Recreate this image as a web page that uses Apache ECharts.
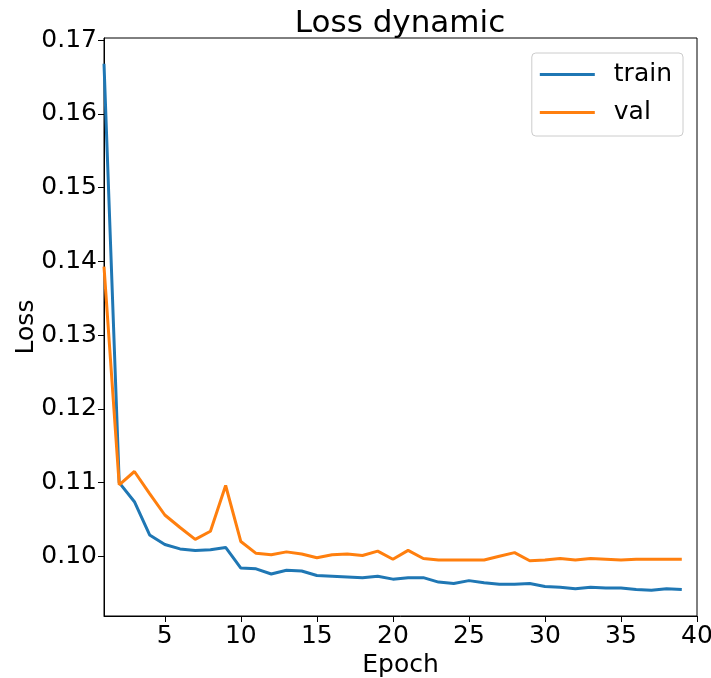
<!DOCTYPE html>
<html>
<head>
<meta charset="utf-8">
<script src="https://cdn.jsdelivr.net/npm/echarts@6/dist/echarts.min.js"></script>
<style>html,body{margin:0;padding:0;background:#fff}#c{width:711px;height:678px}</style>
</head>
<body>
<div id="c"></div>
<script>
var epochs = [1,2,3,4,5,6,7,8,9,10,11,12,13,14,15,16,17,18,19,20,21,22,23,24,25,26,27,28,29,30,31,32,33,34,35,36,37,38,39];
var train = [0.1668,0.1100,0.1074,0.1029,0.1016,0.1010,0.1008,0.1009,0.1012,0.0984,0.0983,0.0976,0.0981,0.0980,0.0974,0.0973,0.0972,0.0971,0.0973,0.0969,0.0971,0.0971,0.0965,0.0963,0.0967,0.0964,0.0962,0.0962,0.0963,0.0959,0.0958,0.0956,0.0958,0.0957,0.0957,0.0955,0.0954,0.0956,0.0955];
var val = [0.1393,0.1097,0.1115,0.1085,0.1056,0.1039,0.1023,0.1034,0.1096,0.1020,0.1004,0.1002,0.1006,0.1003,0.0998,0.1002,0.1003,0.1001,0.1007,0.0996,0.1008,0.0997,0.0995,0.0995,0.0995,0.0995,0.1000,0.1005,0.0994,0.0995,0.0997,0.0995,0.0997,0.0996,0.0995,0.0996,0.0996,0.0996,0.0996];
var xTicks = [5,10,15,20,25,30,35,40];
var yTicks = [0.10,0.11,0.12,0.13,0.14,0.15,0.16,0.17];

var F = 'DejaVu Sans';
function pairs(ys){ return epochs.map(function(e,i){ return [e, ys[i]]; }); }
var chart = echarts.init(document.getElementById('c'), null, {renderer:'canvas'});
chart.setOption({
  animation: false,
  backgroundColor: '#fff',
  title: {
    text: 'Loss dynamic', left: 400, top: 8, padding: 0, textAlign: 'center',
    textStyle: {fontFamily: F, fontSize: 31, fontWeight: 'normal', color: '#000'}
  },
  grid: {left: 104, right: 14, top: 38, bottom: 62, show: true, borderColor: '#000', borderWidth: 1, containLabel: false, outerBoundsMode: 'none'},
  legend: {
    orient: 'vertical', right: 28, top: 53,
    padding: [9, 11, 11, 8], itemGap: 13,
    itemWidth: 55, itemHeight: 30,
    icon: 'path://M0,13.5 L55,13.5 L55,16.5 L0,16.5 Z',
    backgroundColor: 'rgba(255,255,255,0.8)', borderColor: '#cccccc', borderWidth: 1, borderRadius: 4,
    textStyle: {fontFamily: F, fontSize: 25, color: '#000', padding: [0,0,0,14]},
    data: ['train', 'val']
  },
  xAxis: {
    type: 'value', min: 1, max: 40,
    name: 'Epoch', nameLocation: 'middle', nameGap: 37, nameMoveOverlap: false,
    nameTextStyle: {fontFamily: F, fontSize: 25, color: '#000'},
    axisLine: {show: true, lineStyle: {color: '#000', width: 1}},
    axisTick: {show: true, length: 6, lineStyle: {color: '#000'}, customValues: xTicks},
    axisLabel: {fontFamily: F, fontSize: 25, color: '#000', margin: 8, customValues: xTicks, formatter: function(v){ return String(v); }},
    splitLine: {show: false}
  },
  yAxis: {
    type: 'value', min: 0.0919, max: 0.1703,
    name: 'Loss', nameLocation: 'middle', nameGap: 65, nameMoveOverlap: false,
    nameTextStyle: {fontFamily: F, fontSize: 25, color: '#000'},
    axisLine: {show: true, lineStyle: {color: '#000', width: 1}},
    axisTick: {show: true, length: 6, lineStyle: {color: '#000'}, customValues: yTicks},
    axisLabel: {fontFamily: F, fontSize: 25, color: '#000', margin: 7, customValues: yTicks, formatter: function(v){ return v.toFixed(2); }},
    splitLine: {show: false}
  },
  series: [
    {name: 'train', type: 'line', data: pairs(train), showSymbol: false, symbol: 'none', color: '#1f77b4', lineStyle: {width: 3, color: '#1f77b4'}, z: 3},
    {name: 'val', type: 'line', data: pairs(val), showSymbol: false, symbol: 'none', color: '#ff7f0e', lineStyle: {width: 3, color: '#ff7f0e'}, z: 4}
  ]
});
</script>
</body>
</html>
